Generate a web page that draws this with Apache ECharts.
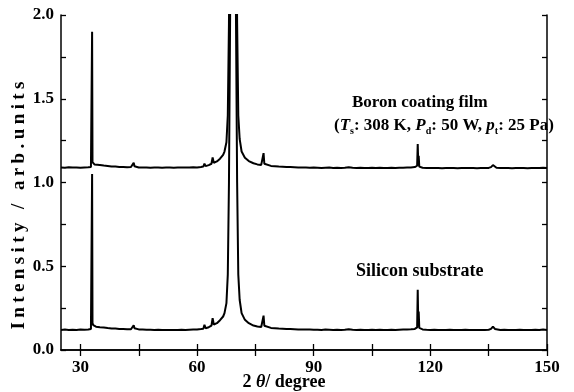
<!DOCTYPE html>
<html>
<head>
<meta charset="utf-8">
<script src="https://cdn.jsdelivr.net/npm/echarts@6/dist/echarts.min.js"></script>
<style>
  html, body { margin: 0; padding: 0; background: #fff; }
  #chart { width: 574px; height: 392px; }
</style>
</head>
<body>
<div id="chart"></div>
<script>
// 2theta positions (deg), shared by both scans
const twoTheta = [
  25, 26, 27, 28, 29, 30, 31, 32, 32.7, 32.9, 33.0, 33.1, 33.3, 33.6, 34, 35, 36, 37, 38, 39,
  40, 41, 42, 43, 43.5, 43.7, 43.9, 44.3, 45, 46, 47, 48, 49, 50, 51, 52, 53, 54, 55, 56,
  57, 58, 59, 60, 61, 61.6, 61.9, 62.2, 63, 63.7, 64.0, 64.3, 65.1, 65.9, 66.7, 67.05, 67.55, 67.9, 68.2, 68.5,
  68.85, 69.25, 69.65, 70.0, 70.3, 70.6, 70.95, 71.45, 72.3, 73.3, 74.5, 75.5, 76.5, 76.9, 77.1, 77.3, 77.8, 79, 80, 81,
  82, 83, 84, 85, 86, 87, 88, 89, 90, 91, 92, 93, 94, 95, 96, 97, 98, 99, 100, 101,
  102, 103, 104, 105, 106, 107, 108, 109, 110, 111, 112, 113, 114, 115, 116, 116.4, 116.6, 116.75, 116.9, 117.0,
  117.15, 117.4, 118, 119, 120, 121, 122, 123, 124, 125, 126, 127, 128, 129, 130, 131, 132, 133, 134, 135,
  135.6, 136.1, 136.6, 137, 138, 139, 140, 141, 142, 143, 144, 145, 146, 147, 148, 149, 150
]

const silicon = [
  0.120, 0.122, 0.119, 0.121, 0.120, 0.122, 0.121, 0.123, 0.126, 0.132, 1.05, 0.160, 0.148, 0.142, 0.139, 0.136, 0.134, 0.131, 0.129, 0.128,
  0.126, 0.125, 0.124, 0.124, 0.130, 0.148, 0.130, 0.125, 0.123, 0.122, 0.121, 0.121, 0.120, 0.121, 0.119, 0.120, 0.120, 0.119, 0.120, 0.121,
  0.120, 0.121, 0.122, 0.123, 0.125, 0.127, 0.150, 0.130, 0.136, 0.145, 0.190, 0.152, 0.160, 0.178, 0.200, 0.220, 0.280, 0.450, 1.00, 2.00,
  3.20, 3.60, 3.20, 2.00, 1.00, 0.450, 0.300, 0.220, 0.180, 0.160, 0.146, 0.140, 0.137, 0.140, 0.205, 0.145, 0.136, 0.132, 0.130, 0.128,
  0.127, 0.126, 0.125, 0.124, 0.123, 0.123, 0.122, 0.122, 0.121, 0.121, 0.120, 0.122, 0.121, 0.120, 0.121, 0.120, 0.121, 0.124, 0.121, 0.120,
  0.121, 0.120, 0.119, 0.121, 0.120, 0.121, 0.120, 0.119, 0.121, 0.120, 0.121, 0.122, 0.123, 0.124, 0.126, 0.130, 0.135, 0.360, 0.140, 0.230,
  0.132, 0.126, 0.123, 0.121, 0.120, 0.121, 0.120, 0.119, 0.120, 0.121, 0.120, 0.119, 0.120, 0.121, 0.120, 0.120, 0.119, 0.120, 0.120, 0.121,
  0.126, 0.140, 0.126, 0.122, 0.120, 0.121, 0.120, 0.119, 0.120, 0.121, 0.120, 0.119, 0.120, 0.121, 0.120, 0.122, 0.120
]

const boron = [
  1.090, 1.088, 1.091, 1.089, 1.090, 1.088, 1.090, 1.091, 1.093, 1.098, 1.90, 1.122, 1.112, 1.108, 1.106, 1.104, 1.101, 1.099, 1.096, 1.095,
  1.093, 1.092, 1.091, 1.092, 1.098, 1.118, 1.097, 1.092, 1.090, 1.089, 1.090, 1.088, 1.089, 1.090, 1.088, 1.089, 1.090, 1.088, 1.089, 1.090,
  1.089, 1.090, 1.091, 1.090, 1.093, 1.095, 1.112, 1.098, 1.104, 1.112, 1.150, 1.118, 1.126, 1.142, 1.165, 1.185, 1.240, 1.400, 1.950, 2.900,
  4.00, 4.50, 4.00, 2.900, 1.950, 1.400, 1.260, 1.185, 1.148, 1.128, 1.115, 1.108, 1.105, 1.108, 1.175, 1.112, 1.104, 1.099, 1.097, 1.095,
  1.094, 1.093, 1.092, 1.091, 1.090, 1.090, 1.089, 1.088, 1.089, 1.088, 1.087, 1.088, 1.089, 1.087, 1.088, 1.087, 1.088, 1.091, 1.088, 1.087,
  1.088, 1.087, 1.086, 1.088, 1.087, 1.088, 1.087, 1.086, 1.088, 1.087, 1.088, 1.088, 1.089, 1.090, 1.092, 1.095, 1.100, 1.230, 1.100, 1.160,
  1.095, 1.090, 1.088, 1.087, 1.086, 1.087, 1.086, 1.085, 1.086, 1.087, 1.086, 1.085, 1.086, 1.087, 1.086, 1.086, 1.085, 1.086, 1.086, 1.087,
  1.092, 1.104, 1.093, 1.088, 1.086, 1.087, 1.086, 1.085, 1.086, 1.087, 1.086, 1.085, 1.086, 1.087, 1.086, 1.088, 1.086
]

const xLabelTicks = [30, 60, 90, 120, 150]
const xTicks = [30, 45, 60, 75, 90, 105, 120, 135, 150]
const yLabelTicks = [0, 0.5, 1.0, 1.5, 2.0]

const font = 'Liberation Serif, Times New Roman, serif'
const ink = '#000'

// the y title in the source is set with wide letter spacing
const spaced = s => s.split('').map(ch => `{c|${ch}}`).join('')

const chart = echarts.init(document.getElementById('chart'), null, { renderer: 'canvas' })

const tickStyle = { inside: true, length: 6, lineStyle: { color: ink, width: 1.3 } }
const lineAxis = { lineStyle: { color: ink, width: 1.5 } }

chart.setOption({
  animation: false,
  backgroundColor: '#fff',
  grid: { left: 61, right: 27, top: 15, bottom: 42, containLabel: false, outerBoundsMode: 'none' },
  xAxis: [{
    type: 'value',
    min: 25,
    max: 150,
    position: 'bottom',
    axisLine: lineAxis,
    axisTick: { ...tickStyle, customValues: xTicks },
    axisLabel: {
      customValues: xLabelTicks,
      color: ink, fontFamily: font, fontWeight: 'bold', fontSize: 17, margin: 9,
    },
    splitLine: { show: false },
    name: '2 {i|θ}/ degree',
    nameLocation: 'middle',
    nameGap: 23,
    nameMoveOverlap: false,
    nameTextStyle: {
      color: ink, fontFamily: font, fontWeight: 'bold', fontSize: 18,
      padding: [0, 40, 0, 0],
      rich: { i: { fontFamily: font, fontStyle: 'italic', fontWeight: 'bold', fontSize: 18, color: ink } },
    },
  }, {
    type: 'value',
    min: 25,
    max: 150,
    position: 'top',
    axisLine: lineAxis,
    axisTick: { ...tickStyle, customValues: xTicks },
    axisLabel: { show: false },
    splitLine: { show: false },
  }],
  yAxis: [{
    type: 'value',
    min: 0,
    max: 2,
    interval: 0.25,
    axisLine: { show: true, ...lineAxis },
    axisTick: { ...tickStyle, length: 5 },
    axisLabel: {
      customValues: yLabelTicks,
      formatter: v => v.toFixed(1),
      color: ink, fontFamily: font, fontWeight: 'bold', fontSize: 17, margin: 7,
    },
    splitLine: { show: false },
    name: spaced('Intensity / arb.units'),
    nameLocation: 'middle',
    nameGap: 32,
    nameMoveOverlap: false,
    nameTextStyle: {
      color: ink, fontFamily: font, fontWeight: 'bold', fontSize: 19,
      padding: [0, 46, 0, 0],
      rich: { c: { fontFamily: font, fontWeight: 'bold', fontSize: 19, color: ink, padding: [0, 2.2, 0, 2.2] } },
    },
  }, {
    type: 'value',
    min: 0,
    max: 2,
    interval: 0.25,
    position: 'right',
    axisLine: { show: true, ...lineAxis },
    axisTick: { ...tickStyle, length: 5 },
    axisLabel: { show: false },
    splitLine: { show: false },
  }],
  series: [{
    name: 'Boron coating film',
    type: 'line',
    data: twoTheta.map((x, i) => [x, boron[i]]),
    symbol: 'none',
    clip: true,
    lineStyle: { color: ink, width: 2 },
  }, {
    name: 'Silicon substrate',
    type: 'line',
    data: twoTheta.map((x, i) => [x, silicon[i]]),
    symbol: 'none',
    clip: true,
    lineStyle: { color: ink, width: 2 },
  }],
  graphic: [{
    type: 'text',
    left: 352, top: 94,
    style: { text: 'Boron coating film', fill: ink, font: `bold 17px ${font}` },
  }, {
    type: 'text',
    left: 334, top: 116,
    style: {
      text: '({it|T}{sub|s}: 308 K, {it|P}{sub|d}: 50 W, {it|p}{sub|t}: 25 Pa)',
      fill: ink,
      font: `bold 17px ${font}`,
      rich: {
        it: { fontFamily: font, fontSize: 17, fontWeight: 'bold', fontStyle: 'italic', fill: ink, lineHeight: 17 },
        sub: { fontFamily: font, fontSize: 10, fontWeight: 'bold', fill: ink, lineHeight: 10, padding: [10, 0, 0, 0] },
      },
    },
  }, {
    type: 'text',
    left: 356, top: 262,
    style: { text: 'Silicon substrate', fill: ink, font: `bold 18px ${font}` },
  }],
})
</script>
</body>
</html>
